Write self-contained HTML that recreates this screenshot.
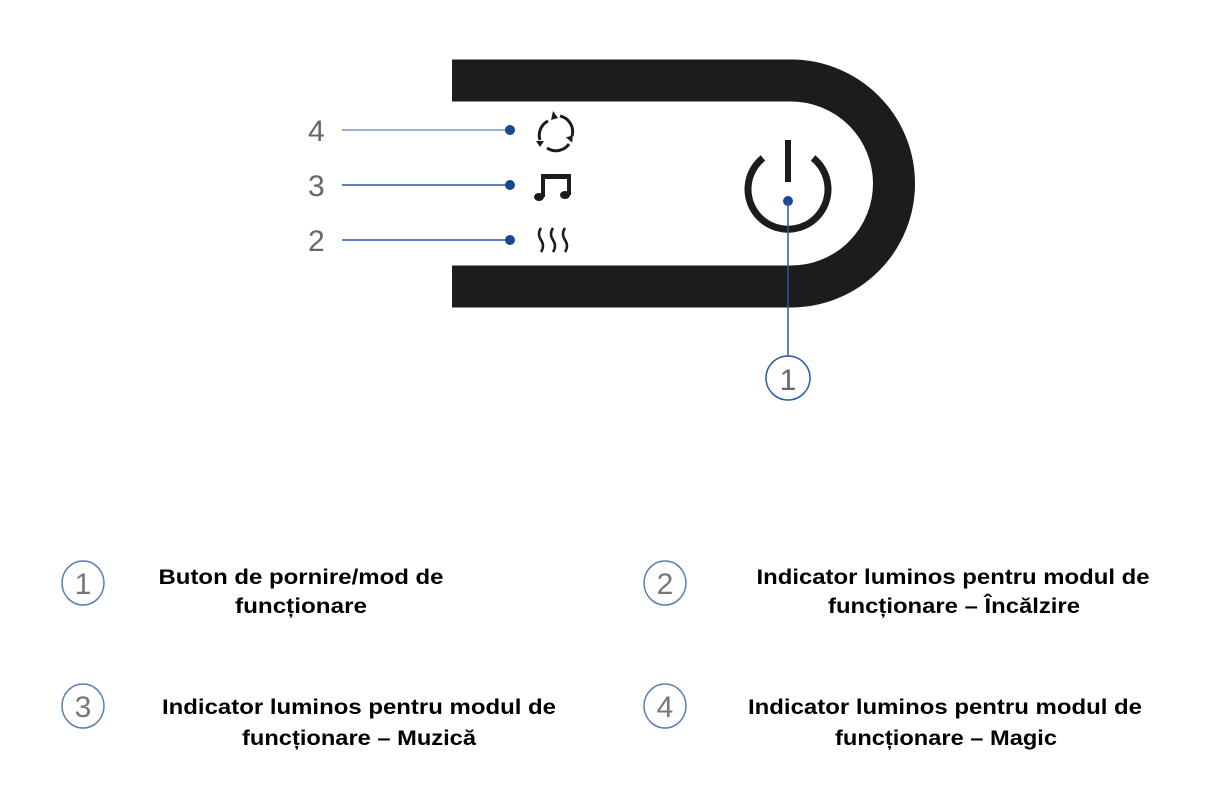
<!DOCTYPE html>
<html><head><meta charset="utf-8"><style>
html,body{margin:0;padding:0;background:#fff;}
svg{display:block;}
</style></head><body>
<svg width="1214" height="795" viewBox="0 0 1214 795" xmlns="http://www.w3.org/2000/svg">
<path d="M452,80.5 H791 A103,103 0 0 1 791,286.5 H452" fill="none" stroke="#1c1c1c" stroke-width="42"/>
<path d="M763,158 A40,40 0 1 0 813,158" fill="none" stroke="#1c1c1c" stroke-width="7"/>
<line x1="788" y1="140" x2="788" y2="182" stroke="#1c1c1c" stroke-width="6"/>
<circle cx="788" cy="201" r="5" fill="#1a4890"/>
<line x1="788" y1="201" x2="788" y2="356" stroke="#2a5aa8" stroke-width="1.5"/>
<ellipse cx="788" cy="378" rx="22" ry="22" fill="none" stroke="#2a5aa8" stroke-width="1.5"/>
<text x="788" y="390" font-family="Liberation Sans, sans-serif" font-size="30" fill="#666" text-anchor="middle">1</text>
<g font-family="Liberation Sans, sans-serif" font-size="30" fill="#666">
<text x="308" y="141">4</text>
<text x="308" y="196">3</text>
<text x="308" y="251">2</text>
</g>
<line x1="342" y1="130" x2="510" y2="130" stroke="#9bb0d0" stroke-width="2"/>
<line x1="342" y1="185" x2="510" y2="185" stroke="#2a5aa8" stroke-width="1.5"/>
<line x1="342" y1="240" x2="510" y2="240" stroke="#2a5aa8" stroke-width="1.5"/>
<circle cx="510" cy="130" r="5" fill="#1a4890"/>
<circle cx="510" cy="185" r="5" fill="#1a4890"/>
<circle cx="510" cy="240" r="5" fill="#1a4890"/>
<g fill="none" stroke="#1c1c1c" stroke-width="3">
<path d="M548,121 A16,16 0 0 0 540,140"/>
<path d="M547,148 A16,16 0 0 0 569,144"/>
<path d="M572,136 A16,16 0 0 0 560,116"/>
</g>
<g fill="#1c1c1c">
<polygon points="536,141 544,141 540,147"/>
<polygon points="565,140 573,140 569,134" transform="rotate(40 569 140)"/>
<polygon points="553,111 558,118 551,120"/>
</g>
<g fill="#1c1c1c">
<rect x="541" y="176" width="4" height="21"/>
<rect x="567" y="176" width="4" height="19"/>
<rect x="541" y="174" width="30" height="5"/>
<ellipse cx="539" cy="197" rx="5" ry="4"/>
<ellipse cx="565" cy="195" rx="5" ry="4"/>
</g>
<g fill="none" stroke="#1c1c1c" stroke-width="2.5">
<path d="M541,228 q-4,6 0,12 q4,6 0,12"/>
<path d="M553,228 q-4,6 0,12 q4,6 0,12"/>
<path d="M565,228 q-4,6 0,12 q4,6 0,12"/>
</g>
<g fill="none" stroke="#5a7fb8" stroke-width="1.5">
<ellipse cx="83" cy="583" rx="21" ry="22"/>
<ellipse cx="665" cy="583" rx="21" ry="22"/>
<ellipse cx="83" cy="706" rx="21" ry="22"/>
<ellipse cx="665" cy="706" rx="21" ry="22"/>
</g>
<g font-family="Liberation Sans, sans-serif" font-size="30" fill="#777" text-anchor="middle">
<text x="83" y="594">1</text>
<text x="665" y="594">2</text>
<text x="83" y="717">3</text>
<text x="665" y="717">4</text>
</g>
<g font-family="Liberation Sans, sans-serif" font-size="21" font-weight="bold" fill="#000" text-anchor="middle">
<text x="301" y="584" textLength="285" lengthAdjust="spacingAndGlyphs">Buton de pornire/mod de</text>
<text x="301" y="613" textLength="132" lengthAdjust="spacingAndGlyphs">funcționare</text>
<text x="953" y="584" textLength="393" lengthAdjust="spacingAndGlyphs">Indicator luminos pentru modul de</text>
<text x="954" y="613" textLength="252" lengthAdjust="spacingAndGlyphs">funcționare – Încălzire</text>
<text x="359" y="714" textLength="394" lengthAdjust="spacingAndGlyphs">Indicator luminos pentru modul de</text>
<text x="359" y="745" textLength="234" lengthAdjust="spacingAndGlyphs">funcționare – Muzică</text>
<text x="945" y="714" textLength="394" lengthAdjust="spacingAndGlyphs">Indicator luminos pentru modul de</text>
<text x="946" y="745" textLength="222" lengthAdjust="spacingAndGlyphs">funcționare – Magic</text>
</g>
</svg>
</body></html>
